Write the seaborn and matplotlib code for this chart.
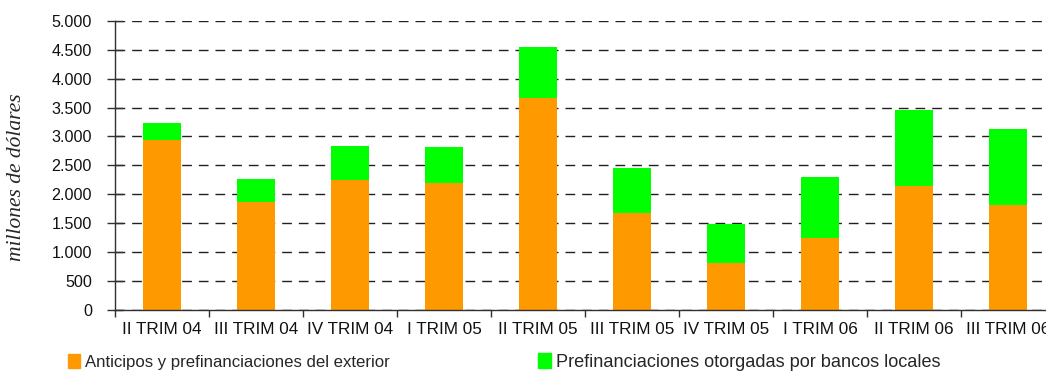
import matplotlib
matplotlib.use("Agg")
import matplotlib.pyplot as plt
from matplotlib.patches import Patch
from matplotlib.ticker import FuncFormatter, MultipleLocator
import pandas as pd
import seaborn as sns

# Quarterly financing, millions of dollars
quarters = ["II TRIM 04", "III TRIM 04", "IV TRIM 04", "I TRIM 05", "II TRIM 05",
            "III TRIM 05", "IV TRIM 05", "I TRIM 06", "II TRIM 06", "III TRIM 06"]
exterior = [2930, 1870, 2250, 2200, 3660, 1670, 800, 1240, 2140, 1810]
bancos_locales = [310, 400, 575, 610, 895, 775, 675, 1050, 1325, 1310]

label_ext = "Anticipos y prefinanciaciones del exterior"
label_loc = "Prefinanciaciones otorgadas por bancos locales"
c_ext = "#FF9900"
c_loc = "#00FF00"

df = pd.DataFrame({"trimestre": quarters, "exterior": exterior, "locales": bancos_locales})
df["total"] = df["exterior"] + df["locales"]

sns.set_style("white")
plt.rcParams["font.family"] = ["Liberation Sans", "DejaVu Sans"]

W, H = 1046, 371
fig = plt.figure(figsize=(W / 100, H / 100), dpi=100)
# the category axis runs a little past the right edge of the figure
ax = fig.add_axes([115 / W, 61.5 / H, 940 / W, 288.5 / H])

# stacked bars: total in green underneath, exterior in orange over it
bar_kw = dict(width=0.4, saturation=1, ax=ax, linewidth=0, edgecolor="none")
sns.barplot(data=df, x="trimestre", y="total", color=c_loc, zorder=3, **bar_kw)
sns.barplot(data=df, x="trimestre", y="exterior", color=c_ext, zorder=4, **bar_kw)

ax.set_xlim(-0.5, len(quarters) - 0.5)
ax.set_ylim(0, 5000)
ax.yaxis.set_major_locator(MultipleLocator(500))
ax.yaxis.set_major_formatter(FuncFormatter(lambda v, p: f"{int(v):,}".replace(",", ".")))

ax.grid(axis="y", color="#202020", linestyle=(0, (7, 5)), linewidth=1.0, zorder=1)
ax.grid(axis="x", visible=False)
for s in ["top", "right"]:
    ax.spines[s].set_visible(False)
for s in ["left", "bottom"]:
    ax.spines[s].set_color("#303030")
    ax.spines[s].set_linewidth(1.0)
    ax.spines[s].set_zorder(5)

# category separators as x ticks
ax.set_xticks([i - 0.5 for i in range(len(quarters) + 1)], minor=False)
ax.set_xticklabels([])
ax.set_xticks(range(len(quarters)), minor=True)
ax.set_xticklabels(quarters, minor=True, fontsize=12.3)
ax.tick_params(axis="x", which="major", direction="out", length=5, width=1, color="#303030", bottom=True)
ax.tick_params(axis="x", which="minor", length=0, pad=9, labelcolor="#111111")
ax.tick_params(axis="y", direction="inout", length=11, width=1, color="#303030",
               left=True, labelsize=11.6, pad=11, labelcolor="#111111")

ax.set_xlabel("")
ax.set_ylabel("millones de dólares", family=["Liberation Serif", "DejaVu Serif"],
              style="italic", fontsize=15.5)
ax.yaxis.set_label_coords((26 - 115) / 940, (309.5 - 177) / 288.5)

leg_kw = dict(frameon=False, handlelength=0.7, handleheight=0.9, handletextpad=0.3,
              borderpad=0, borderaxespad=0, loc="center left")
fig.legend(handles=[Patch(color=c_ext, label=label_ext)], fontsize=12.1,
           bbox_to_anchor=(68 / W, 1 - 362 / H), **leg_kw)
fig.legend(handles=[Patch(color=c_loc, label=label_loc)], fontsize=13.1,
           bbox_to_anchor=(538 / W, 1 - 362 / H), **leg_kw)

fig.savefig("out.png", dpi=100)
